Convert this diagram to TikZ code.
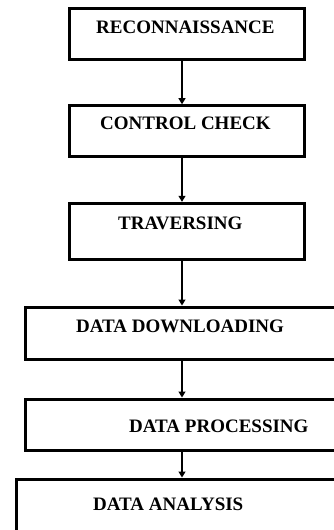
\documentclass[tikz,border=0pt]{standalone}
\usepackage{fontspec}
\setmainfont{Liberation Serif}
\usetikzlibrary{arrows.meta}
\tikzset{
  stage/.style={draw, line width=3pt, inner sep=0pt, fill=none},
  caption/.style={anchor=base west, inner sep=0pt, font=\bfseries\fontsize{19}{19}\selectfont},
  flow/.style={line width=1.2pt, -{Triangle[width=7pt,length=6pt]}}
}
\begin{document}
\begin{tikzpicture}[x=1pt,y=-1pt]
  \clip (0,0) rectangle (334,530);
  \fill[white] (0,0) rectangle (334,530);
  % stage boxes (the lower three run off the right edge)
  \node[stage, minimum width=234.7pt, minimum height=50.3pt] (b1) at (186.65,33.85) {};
  \node[stage, minimum width=234.7pt, minimum height=51pt]   (b2) at (186.65,131.2) {};
  \node[stage, minimum width=234.7pt, minimum height=55.7pt] (b3) at (186.65,231.15) {};
  \node[stage, minimum width=320pt,   minimum height=52.5pt] (b4) at (185,333.25) {};
  \node[stage, minimum width=320pt,   minimum height=51pt]   (b5) at (185,424.5) {};
  \node[stage, minimum width=328.3pt, minimum height=66pt]   (b6) at (180.85,512) {};
  % stage captions
  \node[caption] (t1) at (96,33)   {RECONNAISSANCE};
  \node[caption] (t2) at (100,129) {CONTROL CHECK};
  \node[caption] (t3) at (118,229) {TRAVERSING};
  \node[caption] (t4) at (76,332)  {DATA DOWNLOADING};
  \node[caption] (t5) at (129,432) {DATA PROCESSING};
  \node[caption] (t6) at (93,510)  {DATA ANALYSIS};
  % connectors
  \coordinate (ax) at (182,0);
  \draw[flow] (b1.south -| ax) -- (b2.north -| ax);
  \draw[flow] (b2.south -| ax) -- (b3.north -| ax);
  \draw[flow] (b3.south -| ax) -- (b4.north -| ax);
  \draw[flow] (b4.south -| ax) -- (b5.north -| ax);
  \draw[flow] (b5.south -| ax) -- (b6.north -| ax);
\end{tikzpicture}
\end{document}
